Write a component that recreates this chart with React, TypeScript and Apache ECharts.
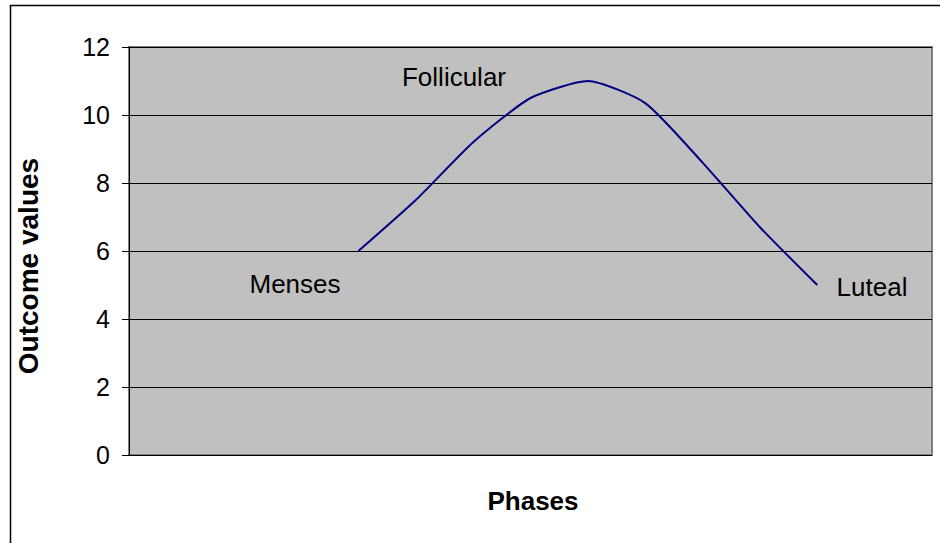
import React, { useEffect, useRef } from "react";
import * as echarts from "echarts";

const categories = ["", "", "", "", "c1", "c2", "c3", "c4", "c5", "c6", "c7", "c8", "c9", "", ""];
const outcomeValues: (number | null)[] = [null, null, null, null, 6, 7.5, 9.2, 10.5, 11, 10.35, 8.6, 6.7, 5, null, null];
const yMin = 0;
const yMax = 12;
const yInterval = 2;
const phaseLabels = ["Menses", "Follicular", "Luteal"];

const FONT = "'Liberation Sans', Arial, sans-serif";

export default function App() {
  const ref = useRef<HTMLDivElement>(null);
  useEffect(() => {
    if (!ref.current) return;
    const chart = echarts.init(ref.current, null, { renderer: "svg" });
    chart.setOption({
      animation: false,
      backgroundColor: "#ffffff",
      grid: {
        left: 129,
        top: 47,
        right: 8,
        bottom: 88,
        show: true,
        backgroundColor: "#C0C0C0",
        borderColor: "#808080",
        borderWidth: 2,
      },
      xAxis: {
        type: "category",
        data: categories,
        boundaryGap: false,
        axisLine: { show: false },
        axisTick: { show: false },
        axisLabel: { show: false },
        splitLine: { show: false },
      },
      yAxis: {
        type: "value",
        min: yMin,
        max: yMax,
        interval: yInterval,
        axisLine: { show: true, lineStyle: { color: "#000", width: 1 } },
        axisTick: { show: true, inside: false, length: 7, lineStyle: { color: "#000" } },
        axisLabel: { color: "#000", fontSize: 25, fontFamily: FONT, margin: 19 },
        splitLine: { show: true, lineStyle: { color: "#000", width: 1 } },
      },
      series: [
        {
          type: "line",
          data: outcomeValues,
          smooth: 0.2,
          showSymbol: false,
          connectNulls: false,
          lineStyle: { color: "#000080", width: 2 },
        },
      ],
      graphic: [
        {
          type: "rect",
          shape: { x: 10.5, y: 5.5, width: 960, height: 560 },
          style: { fill: "none", stroke: "#000", lineWidth: 1.5 },
          z: 100,
        },
        {
          type: "text",
          x: 28,
          y: 266,
          rotation: Math.PI / 2,
          style: {
            text: "Outcome values",
            fontSize: 28,
            fontWeight: "bold",
            fontFamily: FONT,
            fill: "#000",
            textAlign: "center",
            textVerticalAlign: "middle",
          },
        },
        {
          type: "text",
          x: 533,
          y: 501,
          style: {
            text: "Phases",
            fontSize: 26,
            fontWeight: "bold",
            fontFamily: FONT,
            fill: "#000",
            textAlign: "center",
            textVerticalAlign: "middle",
          },
        },
        {
          type: "text",
          x: 295,
          y: 284,
          style: { text: phaseLabels[0], fontSize: 26, fontFamily: FONT, fill: "#000", textAlign: "center", textVerticalAlign: "middle" },
        },
        {
          type: "text",
          x: 454,
          y: 77,
          style: { text: phaseLabels[1], fontSize: 26, fontFamily: FONT, fill: "#000", textAlign: "center", textVerticalAlign: "middle" },
        },
        {
          type: "text",
          x: 872,
          y: 287,
          style: { text: phaseLabels[2], fontSize: 26, fontFamily: FONT, fill: "#000", textAlign: "center", textVerticalAlign: "middle" },
        },
      ],
    });
    return () => chart.dispose();
  }, []);
  return <div ref={ref} style={{ position: "fixed", left: 0, top: 0, width: 940, height: 543 }} />;
}
